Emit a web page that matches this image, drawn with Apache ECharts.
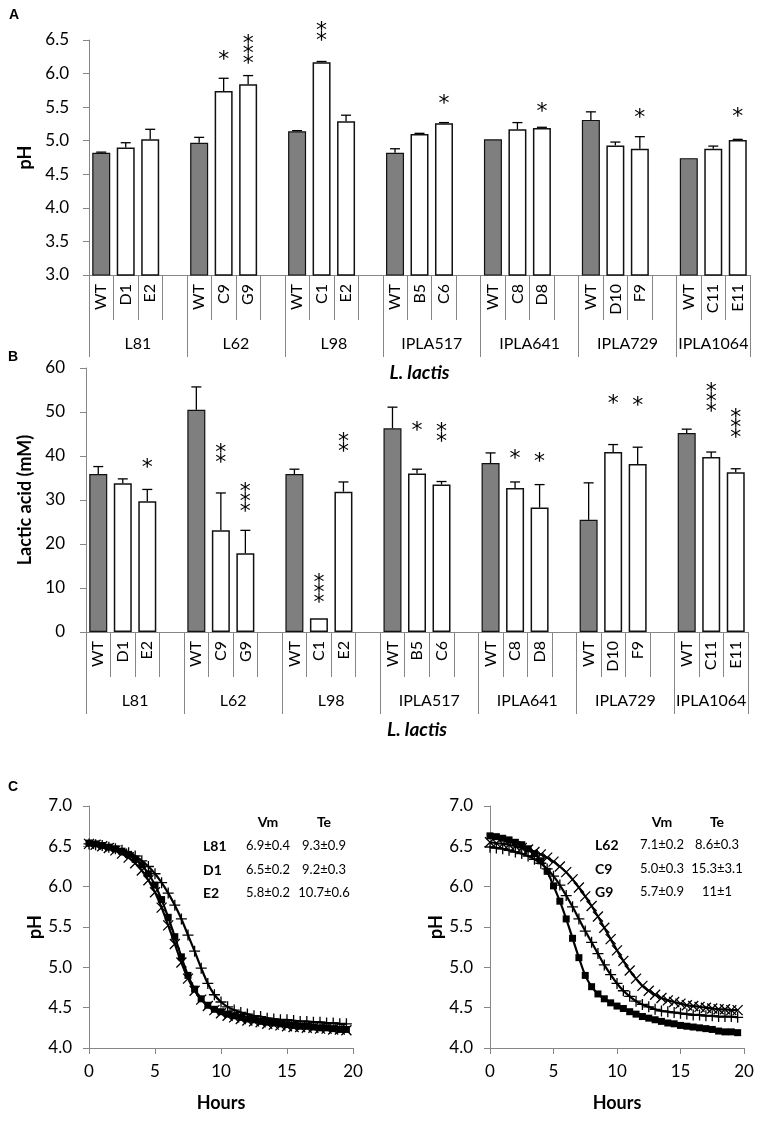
<!DOCTYPE html>
<html><head><meta charset="utf-8">
<script src="https://cdn.jsdelivr.net/npm/echarts@6/dist/echarts.min.js"></script>
<style>html,body{margin:0;padding:0;background:#fff}#c{width:762px;height:1122px}</style>
</head><body><div id="c"></div>
<script>
// ---------- DATA ----------
const groups = ['L81','L62','L98','IPLA517','IPLA641','IPLA729','IPLA1064'];
const strains = [['WT','D1','E2'],['WT','C9','G9'],['WT','C1','E2'],['WT','B5','C6'],['WT','C8','D8'],['WT','D10','F9'],['WT','C11','E11']];
// Panel A: pH
const phMean = [[4.82,4.90,5.02],[4.97,5.74,5.84],[5.14,6.17,5.29],[4.82,5.10,5.26],[5.02,5.17,5.19],[5.31,4.93,4.88],[4.74,4.88,5.01]];
const phErr  = [[0.01,0.07,0.15],[0.08,0.19,0.13],[0.01,0.01,0.09],[0.06,0.01,0.01],[0,0.10,0.01],[0.12,0.05,0.18],[0,0.04,0.01]];
const phStars  = [[0,0,0],[0,1,3],[0,2,0],[0,0,1],[0,0,1],[0,0,1],[0,0,1]];
const phStarAt = [[0,0,0],[0,6.27,6.22],[0,6.55,0],[0,0,5.62],[0,0,5.50],[0,0,5.41],[0,0,5.43]];
// Panel B: lactic acid (mM)
const laMean = [[35.9,33.8,29.7],[50.5,23.1,17.9],[35.9,3.1,31.9],[46.3,36.0,33.5],[38.4,32.7,28.3],[25.5,40.9,38.2],[45.2,39.8,36.3]];
const laErr  = [[1.7,1.0,2.7],[5.2,8.5,5.2],[1.1,0,2.2],[4.8,1.0,0.7],[2.3,1.4,5.2],[8.4,1.7,3.8],[0.9,1.1,0.8]];
const laStars  = [[0,0,1],[0,2,3],[0,3,2],[0,1,2],[0,1,1],[0,1,1],[0,3,3]];
const laStarAt = [[0,0,38.4],[0,39.5,28.4],[0,7.7,42.0],[0,46.8,44.3],[0,40.5,39.8],[0,53.0,52.5],[0,51.1,45.2]];
// Panel C: pH kinetics
const hours = [0,0.5,1,1.5,2,2.5,3,3.5,4,4.5,5,5.5,6,6.5,7,7.5,8,8.5,9,9.5,10,10.5,11,11.5,12,12.5,13,13.5,14,14.5,15,15.5,16,16.5,17,17.5,18,18.5,19,19.5];
const phL81 = [6.54,6.53,6.51,6.49,6.47,6.44,6.40,6.34,6.27,6.16,6.02,5.84,5.62,5.38,5.13,4.90,4.73,4.61,4.53,4.48,4.45,4.42,4.40,4.38,4.36,4.35,4.33,4.32,4.31,4.30,4.29,4.28,4.27,4.27,4.26,4.25,4.25,4.24,4.23,4.23];
const phD1  = [6.53,6.52,6.50,6.48,6.45,6.41,6.36,6.29,6.20,6.08,5.93,5.74,5.52,5.29,5.06,4.86,4.71,4.60,4.52,4.47,4.43,4.40,4.38,4.36,4.34,4.33,4.32,4.30,4.29,4.28,4.27,4.26,4.26,4.25,4.25,4.24,4.24,4.23,4.23,4.22];
const phE2  = [6.53,6.52,6.51,6.49,6.47,6.45,6.42,6.38,6.32,6.25,6.16,6.05,5.92,5.77,5.60,5.40,5.20,4.99,4.80,4.66,4.57,4.51,4.47,4.44,4.42,4.40,4.39,4.37,4.36,4.35,4.35,4.34,4.33,4.33,4.32,4.32,4.31,4.31,4.30,4.30];
const phL62 = [6.63,6.62,6.60,6.58,6.55,6.52,6.47,6.41,6.32,6.19,6.01,5.82,5.60,5.36,5.12,4.90,4.76,4.67,4.61,4.56,4.52,4.49,4.45,4.42,4.39,4.37,4.35,4.33,4.31,4.30,4.28,4.27,4.26,4.25,4.24,4.23,4.21,4.20,4.20,4.19];
const phC9  = [6.55,6.54,6.53,6.52,6.50,6.48,6.46,6.43,6.40,6.36,6.31,6.25,6.18,6.09,5.99,5.88,5.76,5.63,5.49,5.35,5.21,5.08,4.96,4.86,4.77,4.71,4.66,4.62,4.59,4.57,4.55,4.53,4.52,4.51,4.50,4.49,4.48,4.48,4.47,4.47];
const phG9  = [6.49,6.48,6.47,6.45,6.43,6.41,6.38,6.34,6.29,6.22,6.13,6.02,5.89,5.75,5.60,5.45,5.31,5.17,5.03,4.91,4.80,4.71,4.64,4.58,4.54,4.51,4.48,4.46,4.45,4.44,4.43,4.42,4.41,4.41,4.40,4.40,4.39,4.39,4.39,4.38];
const tableLeft  = [['L81','6.9±0.4','9.3±0.9'],['D1','6.5±0.2','9.2±0.3'],['E2','5.8±0.2','10.7±0.6']];
const tableRight = [['L62','7.1±0.2','8.6±0.3'],['C9','5.0±0.3','15.3±3.1'],['G9','5.7±0.9','11±1']];
const tableHead = ['Vm','Te'];

// ---------- BUILD ----------
const FONT = 'Lato, "Open Sans", sans-serif';
const AX = '#868686';
const nSlots = groups.length * 4 - 1;
const slotLabels = Array(nSlots).fill('');
strains.forEach((s, gi) => s.forEach((n, k) => { slotLabels[gi * 4 + k] = n; }));
const groupBounds = groups.map((g, gi) => gi * 4).concat([nSlots]);
const groupCenters = groups.map((g, gi) => (gi * 4 + Math.min(gi * 4 + 4, nSlots)) / 2);

function build(mean, err, stars, starAt) {
  const wt = Array(nSlots).fill('-'), mut = Array(nSlots).fill('-'), eb = [];
  strains.forEach((s, gi) => s.forEach((n, k) => {
    const i = gi * 4 + k;
    (k === 0 ? wt : mut)[i] = mean[gi][k];
    eb.push([i, mean[gi][k], err[gi][k], stars[gi][k], starAt[gi][k]]);
  }));
  return { wt, mut, eb };
}
const A = build(phMean, phErr, phStars, phStarAt);
const B = build(laMean, laErr, laStars, laStarAt);

function ebRender(params, api) {
  const x = api.value(0), m = api.value(1), e = api.value(2), ns = api.value(3), sa = api.value(4);
  const ch = [];
  const p0 = api.coord([x, m]);
  if (e > 0) {
    const p1 = api.coord([x, m + e]);
    ch.push({ type: 'line', shape: { x1: p0[0], y1: p0[1], x2: p1[0], y2: p1[1] }, style: { stroke: '#000', lineWidth: 1.3 } });
    ch.push({ type: 'line', shape: { x1: p1[0] - 5, y1: p1[1], x2: p1[0] + 5, y2: p1[1] }, style: { stroke: '#000', lineWidth: 1.3 } });
  }
  if (ns > 0) {
    const ps = api.coord([x, sa]);
    for (let j = 0; j < ns; j++) {
      ch.push({ type: 'text', x: ps[0], y: ps[1] - j * 10 + 5,
        style: { text: '*', fill: '#000', fontSize: 22, fontFamily: 'DejaVu Sans', align: 'center', verticalAlign: 'middle' } });
    }
  }
  return { type: 'group', children: ch };
}

const txt = { color: '#000', fontFamily: FONT };
function catAxis(gi) {
  return { type: 'category', gridIndex: gi, data: slotLabels, position: 'bottom',
    axisLine: { show: true, lineStyle: { color: AX, width: 1 } },
    axisTick: { show: true, alignWithLabel: false, interval: 0, length: 45, lineStyle: { color: AX } },
    axisLabel: Object.assign({ interval: 0, rotate: 90, fontSize: 16, margin: 9 }, txt) };
}
function grpAxis(gi) {
  return { type: 'value', gridIndex: gi, min: 0, max: nSlots, position: 'bottom',
    axisLine: { show: false }, splitLine: { show: false },
    axisTick: { show: true, customValues: groupBounds, length: 82, lineStyle: { color: AX } },
    axisLabel: Object.assign({ customValues: groupCenters, fontSize: 16, margin: 61,
      formatter: v => { const i = groupCenters.findIndex(c => Math.abs(c - v) < 1e-6); return i >= 0 ? groups[i] : ''; } }, txt),
    name: 'L. lactis', nameLocation: 'middle', nameGap: 88,
    nameTextStyle: { fontSize: 19, fontStyle: 'italic', fontWeight: 'bold', color: '#000', fontFamily: FONT } };
}
function valY(gi, min, max, interval, dec, name, nameGap, margin) {
  return { type: 'value', gridIndex: gi, min, max, interval,
    axisLine: { show: true, lineStyle: { color: AX } },
    axisTick: { show: true, length: 6, lineStyle: { color: AX } },
    splitLine: { show: false },
    axisLabel: Object.assign({ fontSize: 17, margin, formatter: v => v.toFixed(dec) }, txt),
    name, nameLocation: 'middle', nameGap,
    nameTextStyle: { fontSize: 18, fontWeight: 'bold', color: '#000', fontFamily: FONT } };
}
function hourAxis(gi) {
  return { type: 'value', gridIndex: gi, min: 0, max: 20, interval: 5,
    axisLine: { show: true, lineStyle: { color: AX } },
    axisTick: { show: true, length: 6, lineStyle: { color: AX } },
    splitLine: { show: false },
    axisLabel: Object.assign({ fontSize: 17, margin: 15 }, txt),
    name: 'Hours', nameLocation: 'middle', nameGap: 46,
    nameTextStyle: { fontSize: 18, fontWeight: 'bold', color: '#000', fontFamily: FONT } };
}

const SYM_X = 'path://M0,0L10,10M10,0L0,10';
const SYM_P = 'path://M5,0L5,10M0,5L10,5';
function curve(xi, vals, sym) {
  const s = { type: 'line', xAxisIndex: xi, yAxisIndex: xi - 2, smooth: 0.3,
    data: hours.map((h, i) => [h, vals[i]]),
    lineStyle: { color: '#000', width: 2.2 }, z: 3 };
  if (sym === 'sq') { s.symbol = 'rect'; s.symbolSize = 7; s.itemStyle = { color: '#000' }; }
  else { s.symbol = sym === 'x' ? SYM_X : SYM_P; s.symbolSize = sym === 'x' ? 10 : 11;
    s.itemStyle = { color: 'none', borderColor: '#000', borderWidth: 1.3 }; }
  return s;
}

function bars(xi, d) {
  const yi = xi / 2 | 0;
  return [
    { type: 'bar', xAxisIndex: xi, yAxisIndex: yi, data: d.wt, barWidth: 18, barGap: '-100%',
      itemStyle: { color: '#7f7f7f', borderColor: '#111', borderWidth: 1.2 } },
    { type: 'bar', xAxisIndex: xi, yAxisIndex: yi, data: d.mut, barWidth: 18, barGap: '-100%',
      itemStyle: { color: '#fff', borderColor: '#111', borderWidth: 1.5 } },
    { type: 'custom', xAxisIndex: xi, yAxisIndex: yi, data: d.eb, renderItem: ebRender, z: 5,
      encode: { x: 0, y: 1 } }
  ];
}

const graphics = [];
function gtext(x, y, text, size, weight, align) {
  graphics.push({ type: 'text', x, y, style: { text, fontSize: size, fontWeight: weight || 'normal',
    fontFamily: FONT, fill: '#000', align: align || 'center', verticalAlign: 'middle' } });
}
[['A', 14, 15], ['B', 13, 357], ['C', 13, 787]].forEach(p =>
  graphics.push({ type: 'text', x: p[1], y: p[2], style: { text: p[0], fontSize: 14, fontWeight: 'bold',
    fontFamily: '"Liberation Sans", Arial, sans-serif', fill: '#000', align: 'center', verticalAlign: 'middle' } }));
function table(rows, xl, xv, xt, ys) {
  gtext(xv, ys[0], tableHead[0], 14, 'bold');
  gtext(xt, ys[0], tableHead[1], 14, 'bold');
  rows.forEach((r, i) => {
    gtext(xl, ys[i + 1], r[0], 14, 'bold', 'left');
    gtext(xv, ys[i + 1], r[1], 13);
    gtext(xt, ys[i + 1], r[2], 13);
  });
}
table(tableLeft, 203, 268, 324, [822, 846, 870, 893]);
table(tableRight, 595, 662, 717, [822, 845, 869, 892]);

const option = {
  animation: false,
  backgroundColor: '#fff',
  grid: [
    { left: 89, top: 40, width: 661, height: 235 },
    { left: 86, top: 368, width: 662, height: 264 },
    { left: 89, top: 806, width: 264, height: 242 },
    { left: 490, top: 806, width: 254, height: 242 }
  ],
  xAxis: [catAxis(0), grpAxis(0), catAxis(1), grpAxis(1), hourAxis(2), hourAxis(3)],
  yAxis: [
    valY(0, 3, 6.5, 0.5, 1, 'pH', 53, 20),
    valY(1, 0, 60, 10, 0, 'Lactic acid (mM)', 44, 21),
    valY(2, 4, 7, 0.5, 1, 'pH', 45, 17),
    valY(3, 4, 7, 0.5, 1, 'pH', 45, 17)
  ],
  series: [].concat(
    bars(0, A), bars(2, B),
    [curve(4, phL81, 'sq'), curve(4, phD1, 'x'), curve(4, phE2, 'p'),
     curve(5, phL62, 'sq'), curve(5, phC9, 'x'), curve(5, phG9, 'p')]
  ),
  graphic: graphics
};
const chart = echarts.init(document.getElementById('c'), null, { renderer: 'canvas' });
chart.setOption(option);
</script>
</body></html>
